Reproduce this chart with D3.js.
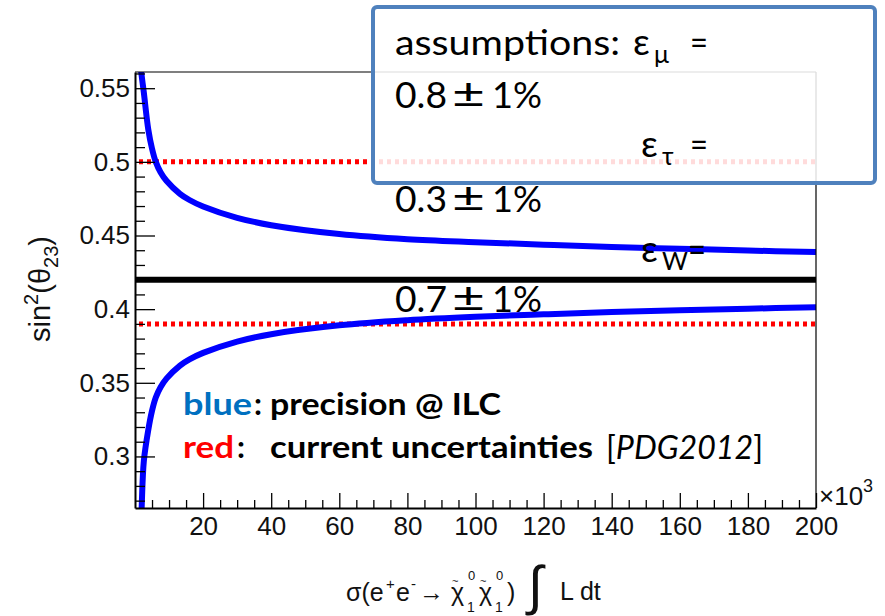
<!DOCTYPE html>
<html><head><meta charset="utf-8">
<script src="https://cdn.jsdelivr.net/npm/d3@7"></script>
<style>body{margin:0;background:#fff}</style>
</head><body>
<svg id="c" width="885" height="616" xmlns="http://www.w3.org/2000/svg"></svg>
<script>
// ---- data ----
const lumiUpper = [1.4, 1.6, 2.6, 3.9, 5.0, 6.1, 7.5, 9.3, 13.2, 16, 20, 30, 40, 60, 80, 100, 120, 140, 160, 180, 200];
const upperBand = [0.60, 0.567, 0.547, 0.522, 0.509, 0.50, 0.493, 0.487, 0.4783, 0.4741, 0.4697, 0.462, 0.457, 0.451, 0.4475, 0.4455, 0.4438, 0.4422, 0.441, 0.4398, 0.4388];
const lumiLower = [1.7, 2.0, 2.6, 3.9, 5.0, 6.1, 7.5, 9.3, 13.2, 16, 20, 30, 40, 60, 80, 100, 120, 140, 160, 180, 200];
const lowerBand = [0.24, 0.268, 0.297, 0.318, 0.331, 0.340, 0.347, 0.353, 0.3617, 0.3659, 0.3703, 0.378, 0.383, 0.389, 0.3925, 0.3948, 0.3965, 0.398, 0.3992, 0.4003, 0.4013];
const centralValue = [0.42];
const pdgBounds = [0.5, 0.39];
const xDomain = [0, 200];
const yDomain = [0.265, 0.561];
const xTicks = [20, 40, 60, 80, 100, 120, 140, 160, 180, 200];
const xTickLabels = ["20", "40", "60", "80", "100", "120", "140", "160", "180", "200"];
const xMinor = d3.range(5, 200, 5).filter(v => v % 20 !== 0);
const yTicks = [0.3, 0.35, 0.4, 0.45, 0.5, 0.55];
const yTickLabels = ["0.3", "0.35", "0.4", "0.45", "0.5", "0.55"];
const yMinor = d3.range(27, 57).map(v => v / 100).filter(v => Math.round(v * 100) % 5 !== 0);
const assumptions = [["μ", "0.8"], ["τ", "0.3"], ["W", "0.7"]];

// ---- layout ----
const L = 135, R = 816, T = 72, B = 508;
const svg = d3.select("#c");
const x = d3.scaleLinear().domain(xDomain).range([L, R]);
const y = d3.scaleLinear().domain(yDomain).range([B, T]);
const tickFont = "'Liberation Sans', Arial, sans-serif";
const calFont = "Lato, 'Open Sans', sans-serif";

svg.append("defs").append("clipPath").attr("id", "clip")
  .append("rect").attr("x", L).attr("y", T).attr("width", R - L).attr("height", B - T);

const plot = svg.append("g").attr("clip-path", "url(#clip)");

// red dotted PDG lines
plot.selectAll("line.pdg").data(pdgBounds).join("line").attr("class", "pdg")
  .attr("x1", x(xDomain[0]) + 4).attr("x2", x(xDomain[1]))
  .attr("y1", d => y(d)).attr("y2", d => y(d))
  .attr("stroke", "#ff0000").attr("stroke-width", 5).attr("stroke-dasharray", "4,4");

// black central value
plot.selectAll("line.cv").data(centralValue).join("line").attr("class", "cv")
  .attr("x1", x(xDomain[0])).attr("x2", x(xDomain[1]))
  .attr("y1", d => y(d)).attr("y2", d => y(d))
  .attr("stroke", "#000").attr("stroke-width", 6);

// blue bands
const line = d3.line().x(d => x(d[0])).y(d => y(d[1])).curve(d3.curveCatmullRom.alpha(0.5));
plot.append("path").datum(d3.zip(lumiUpper, upperBand)).attr("d", line)
  .attr("fill", "none").attr("stroke", "#0000ff").attr("stroke-width", 6);
plot.append("path").datum(d3.zip(lumiLower, lowerBand)).attr("d", line)
  .attr("fill", "none").attr("stroke", "#0000ff").attr("stroke-width", 6);

// frame top/right
svg.append("line").attr("x1", L).attr("x2", R).attr("y1", T).attr("y2", T).attr("stroke", "#000").attr("stroke-width", 1.2);
svg.append("line").attr("x1", R).attr("x2", R).attr("y1", T).attr("y2", B).attr("stroke", "#000").attr("stroke-width", 1.2);

// axes
const yAx = svg.append("g").attr("transform", `translate(${L},0)`)
  .call(d3.axisLeft(y).tickValues(yTicks).tickSize(-20).tickSizeOuter(0).tickPadding(5)
    .tickFormat((d, i) => yTickLabels[i]));
svg.append("g").attr("transform", `translate(${L},0)`)
  .call(d3.axisLeft(y).tickValues(yMinor).tickSize(-10).tickSizeOuter(0).tickFormat(""))
  .call(g => g.select(".domain").remove());
const xAx = svg.append("g").attr("transform", `translate(0,${B})`)
  .call(d3.axisBottom(x).tickValues(xTicks).tickSize(-15).tickSizeOuter(0)
    .tickFormat((d, i) => xTickLabels[i]));
svg.append("g").attr("transform", `translate(0,${B})`)
  .call(d3.axisBottom(x).tickValues(xMinor).tickSize(-8).tickSizeOuter(0).tickFormat(""))
  .call(g => g.select(".domain").remove());
svg.selectAll(".domain").attr("stroke-width", 2).attr("stroke", "#000");
svg.selectAll(".tick line").attr("stroke", "#000").attr("stroke-width", 1.3);
yAx.selectAll("text").attr("font-family", tickFont).attr("font-size", 26).attr("fill", "#111");
xAx.selectAll("text").attr("font-family", tickFont).attr("font-size", 26).attr("fill", "#111")
  .attr("y", 27).attr("dy", 0);

// x10^3
const ex = svg.append("text").attr("x", 819).attr("y", 505).attr("font-family", tickFont).attr("font-size", 26).attr("fill", "#111");
ex.append("tspan").text("×10");
ex.append("tspan").attr("font-size", 18).attr("dy", -13).text("3");

// y title
const yt = svg.append("text").attr("transform", "translate(50,289) rotate(-90)")
  .attr("text-anchor", "middle").attr("font-family", tickFont).attr("font-size", 29).attr("fill", "#111");
yt.append("tspan").text("sin");
yt.append("tspan").attr("font-size", 20).attr("dy", -12).text("2");
yt.append("tspan").attr("dy", 12).text("(θ");
yt.append("tspan").attr("font-size", 20).attr("dy", 8).text("23");
yt.append("tspan").attr("dy", -8).text(")");

// x title
const xt = svg.append("g").attr("font-family", tickFont).attr("fill", "#111");
function t(xx, yy, s, fs) { return xt.append("text").attr("x", xx).attr("y", yy).attr("font-size", fs).text(s); }
t(346, 601, "σ(e", 25);
t(386, 589, "+", 15);
t(396, 601, "e", 25);
t(411, 589, "-", 15);
t(419, 601, "→", 25);
[451, 479].forEach(cx => {
  t(cx, 601, "χ", 25);
  t(cx + 1, 585, "~", 11);
  t(cx + 16, 612, "1", 14);
  t(cx + 17, 580, "0", 13);
});
t(507, 601, ")", 25);
t(528, 604, "∫", 54);
t(560, 600, "L dt", 25);

// legend inside plot
const lg = svg.append("g").attr("font-family", calFont).attr("font-weight", "bold").attr("font-size", 31).attr("fill", "#000");
function lt(xx, yy, s, len, fill) {
  const e = lg.append("text").attr("x", xx).attr("y", yy).text(s);
  if (len) e.attr("textLength", len).attr("lengthAdjust", "spacingAndGlyphs");
  if (fill) e.attr("fill", fill);
  return e;
}
lt(183, 415, "blue", 69, "#0070c0");
lt(254, 415, ":", null);
lt(270, 415, "precision @ ILC", 231);
lt(183, 458, "red", 51, "#ff0000");
lt(237, 458, ":", null);
lt(270, 458, "current uncertainties", 323);
const pdg = lg.append("text").attr("x", 606).attr("y", 459).attr("font-weight", "normal").attr("font-size", 32)
  .attr("textLength", 157).attr("lengthAdjust", "spacingAndGlyphs");
pdg.append("tspan").text("[");
pdg.append("tspan").attr("font-style", "italic").text("PDG2012");
pdg.append("tspan").text("]");

// assumptions box
svg.append("rect").attr("x", 373).attr("y", 7).attr("width", 502).attr("height", 176).attr("rx", 4)
  .attr("fill", "#fff").attr("fill-opacity", 0.86).attr("stroke", "#4f81bd").attr("stroke-width", 4);
const bx = svg.append("g").attr("font-family", calFont).attr("font-size", 34).attr("fill", "#000");
function bt(xx, yy, s, fs, len) {
  const e = bx.append("text").attr("x", xx).attr("y", yy).text(s);
  if (fs) e.attr("font-size", fs);
  if (len) e.attr("textLength", len).attr("lengthAdjust", "spacingAndGlyphs");
  return e;
}
bt(395, 55, "assumptions:", null, 225);
const symRows = [[633, 55], [641, 157], [641, 262]];
const valRows = [108, 212, 312];
assumptions.forEach((a, i) => {
  const [sx, sy] = symRows[i];
  bt(sx, sy, "ε", 37);
  bt(sx + 21, sy + 8, a[0], 25);
  bt(i === 2 ? 688 : 690, sy, "=", 34, 18);
  const vy = valRows[i];
  bt(395, vy, a[1], 37, 52);
  bt(452, vy, "±", 40, 33);
  bt(492, vy, "1%", 37, 50);
});
</script>
</body></html>
